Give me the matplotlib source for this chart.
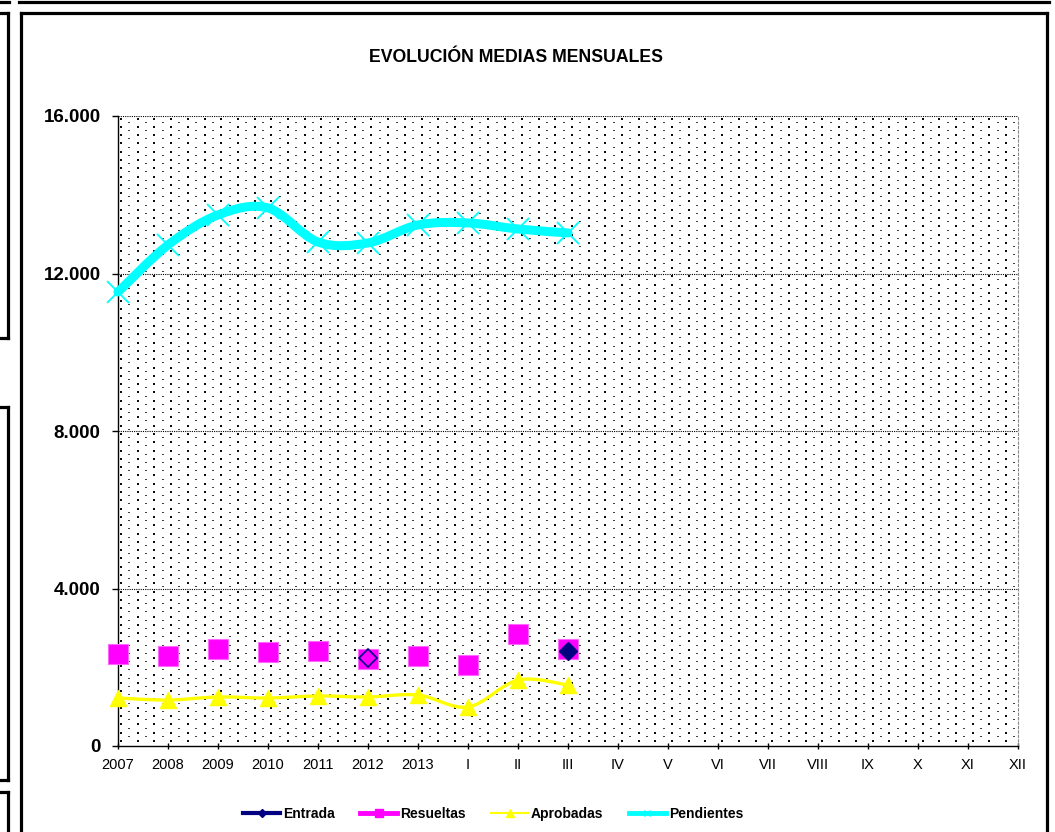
import numpy as np
import matplotlib
matplotlib.use('Agg')
import matplotlib.pyplot as plt
from matplotlib.path import Path
from matplotlib.patches import PathPatch
from matplotlib.lines import Line2D
from matplotlib.ticker import FuncFormatter

# Data
categories = ['2007', '2008', '2009', '2010', '2011', '2012', '2013',
              'I', 'II', 'III', 'IV', 'V', 'VI', 'VII', 'VIII', 'IX', 'X', 'XI', 'XII']
entrada    = [None, None, None, None, None, 2235, None, None, None, 2413]
resueltas  = [2337, 2286, 2464, 2388, 2413, 2210, 2286, 2057, 2845, 2464]
aprobadas  = [1219, 1168, 1245, 1219, 1270, 1245, 1295, 991, 1676, 1549]
pendientes = [11530, 12725, 13487, 13665, 12800, 12776, 13233, 13284, 13130, 13030]
y_ticks = [0, 4000, 8000, 12000, 16000]

W, H, DPI = 1055, 832, 100
ARIAL = ['Liberation Sans', 'DejaVu Sans']
plt.rcParams['font.family'] = ARIAL

# plot area in pixels (left, top, right, bottom)
PL, PT, PR, PB = 118, 116, 1018, 746


def smooth_path(xs, ys):
    # Excel-like smoothed line: cubic Bezier through points (Catmull-Rom control points)
    pts = np.column_stack([xs, ys]).astype(float)
    n = len(pts)
    verts = [pts[0]]
    codes = [Path.MOVETO]
    for i in range(n - 1):
        p0 = pts[i - 1] if i > 0 else pts[i]
        p1, p2 = pts[i], pts[i + 1]
        p3 = pts[i + 2] if i + 2 < n else pts[i + 1]
        verts += [p1 + (p2 - p0) / 6.0, p2 - (p3 - p1) / 6.0, p2]
        codes += [Path.CURVE4] * 3
    return Path(verts, codes)


fig = plt.figure(figsize=(W / DPI, H / DPI), dpi=DPI)
fig.patch.set_facecolor('white')

# ---- dotted background pattern for the plot area ------------------------
pw, ph = PR - PL, PB - PT
img = np.ones((ph, pw, 3))
step_x, step_y = 16.7, 4.15
for r, yy in enumerate(np.arange(1.5, ph - 2, step_y)):
    off = (r % 2) * step_x / 2
    for xx in np.arange(2 + off, pw - 2, step_x):
        iy, ix = int(round(yy)), int(round(xx))
        if r % 2 == 0:
            img[iy:iy + 2, ix:ix + 2] = 0.05
        else:
            img[iy, ix:ix + 2] = 0.25
fig.figimage(img, xo=PL, yo=H - PB, zorder=-5)

ax = fig.add_axes([PL / W, 1 - PB / H, pw / W, ph / H], zorder=2)
ax.patch.set_alpha(0)

x_all = np.arange(len(categories))
x = x_all[:len(pendientes)]

# gridlines
for yv in y_ticks[1:]:
    ax.axhline(yv, color='black', lw=0.8, ls=(0, (1, 1)), zorder=1)

# Pendientes
ax.add_patch(PathPatch(smooth_path(x, pendientes), fill=False, edgecolor='#00FFFF',
                       lw=6.5, capstyle='round', joinstyle='round', zorder=3,
                       clip_on=False))
ax.plot(x, pendientes, ls='none', marker='x', ms=16, mew=1.3, color='#00FFFF',
        zorder=4, clip_on=False)

# Aprobadas
ax.add_patch(PathPatch(smooth_path(x, aprobadas), fill=False, edgecolor='#FFFF00',
                       lw=2.4, capstyle='round', joinstyle='round', zorder=3,
                       clip_on=False))
ax.plot(x, aprobadas, ls='none', marker='^', ms=11, color='#FFFF00', zorder=4,
        clip_on=False)

# Resueltas (markers only)
ax.plot(x, resueltas, ls='none', marker='s', ms=14, mfc='#FF00FF', mec='#FF66FF',
        mew=0.8, zorder=5, clip_on=False)

# Entrada
ent = np.array([np.nan if v is None else v for v in entrada], dtype=float)
ax.plot(x[:7], ent[:7], ls='none', marker='D', ms=9.5, mfc='none', mec='#000080',
        mew=1.2, zorder=6, clip_on=False)
ax.plot(x[7:], ent[7:], ls='none', marker='D', ms=9.5, mfc='#000080', mec='#000080',
        zorder=6, clip_on=False)

# axes formatting
ax.set_xlim(0, len(categories) - 1)
ax.set_ylim(0, 16000)
ax.set_yticks(y_ticks)
ax.yaxis.set_major_formatter(FuncFormatter(lambda v, p: f'{v:,.0f}'.replace(',', '.')))
ax.set_xticks(x_all)
ax.set_xticklabels(categories)
ax.tick_params(axis='y', direction='out', length=4, width=1, pad=8.5, labelsize=13.5)
ax.tick_params(axis='x', direction='inout', length=5, width=1, pad=6, labelsize=10.5)
for lbl in ax.get_yticklabels():
    lbl.set_fontweight('bold')
for s in ['left', 'bottom']:
    ax.spines[s].set_color('black')
    ax.spines[s].set_linewidth(1.0)
ax.spines['top'].set_visible(False)
ax.spines['right'].set_color('#888888')
ax.spines['right'].set_linewidth(0.8)
ax.spines['right'].set_linestyle((0, (2, 2)))

# title
fig.text(516 / W, 1 - 57 / H, 'EVOLUCIÓN MEDIAS MENSUALES', ha='center', va='center',
         fontsize=12.7, fontweight='bold')

# legend
handles = [
    Line2D([], [], color='#000080', lw=3, marker='D', ms=4),
    Line2D([], [], color='#FF00FF', lw=3.5, marker='s', ms=6),
    Line2D([], [], color='#FFFF00', lw=1.5, marker='^', ms=6),
    Line2D([], [], color='#00FFFF', lw=3.5, marker='x', ms=5, mew=1),
]
labels = ['Entrada', 'Resueltas', 'Aprobadas', 'Pendientes']
fig.legend(handles, labels, loc='center', bbox_to_anchor=(493 / W, 1 - 814 / H),
           ncol=4, frameon=False, handlelength=2.7, handletextpad=0.2,
           columnspacing=1.8, prop={'weight': 'bold', 'size': 10})

# ---- surrounding chart frames (pixel coordinates) -----------------------
ov = fig.add_axes([0, 0, 1, 1], zorder=-1)
ov.set_xlim(0, W)
ov.set_ylim(H, 0)
ov.axis('off')
ov.patch.set_alpha(0)
lw = 2.3
segs = [
    ([0, 9], [1.5, 1.5]), ([19, 1049], [1.5, 1.5]),
    ([20.5, 20.5], [12.5, H]), ([20.5, 1046.5], [12.5, 12.5]), ([1046.5, 1046.5], [12.5, H]),
    ([0, 7.5], [12.5, 12.5]), ([7.5, 7.5], [12.5, 338]), ([0, 7.5], [338, 338]),
    ([0, 7.5], [407, 407]), ([7.5, 7.5], [407, 779.5]), ([0, 7.5], [779.5, 779.5]),
    ([0, 7.5], [792, 792]), ([7.5, 7.5], [792, H]),
]
for xs, ys in segs:
    ov.plot(xs, ys, color='black', lw=lw, solid_capstyle='projecting')

fig.savefig('out.png', dpi=DPI)
